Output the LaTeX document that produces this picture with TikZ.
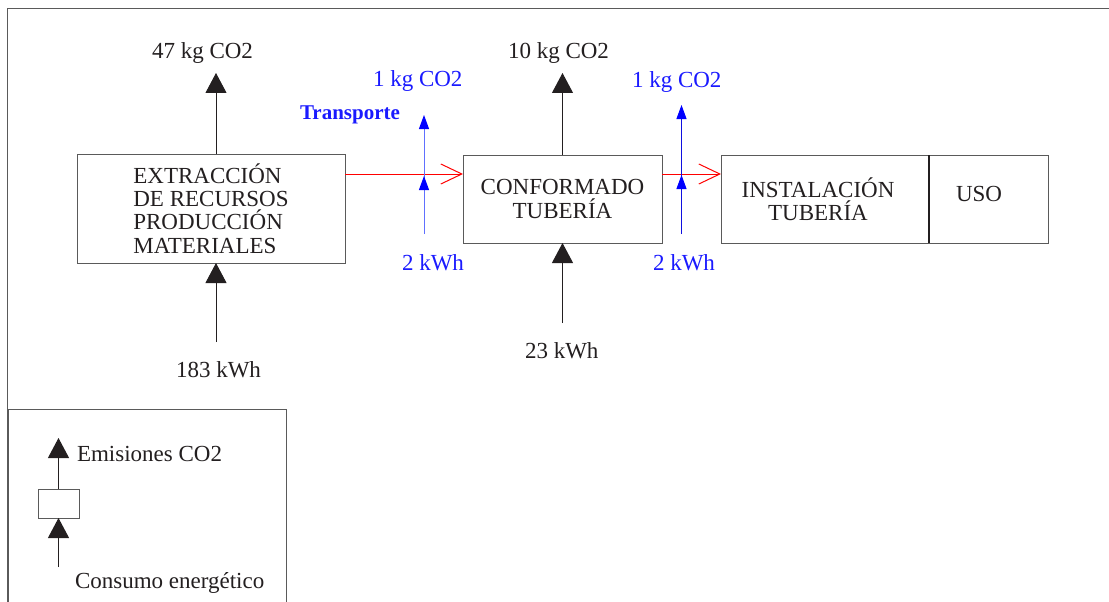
\documentclass[tikz,border=0pt]{standalone}
\usepackage{fontspec}
\setmainfont{Liberation Serif}
\usetikzlibrary{arrows.meta}
\definecolor{ink}{HTML}{231F20}
\definecolor{framec}{HTML}{5A5A5A}
\definecolor{bluetxt}{HTML}{1A1AFF}
\definecolor{lightblue}{HTML}{6070FF}
\definecolor{darkblue}{HTML}{1010E0}
\begin{document}
\begin{tikzpicture}[x=1pt,y=-1pt,
  every node/.style={font=\fontsize{23}{23.4}\selectfont, text=ink, inner sep=0pt, outer sep=0pt},
  boxnode/.style={draw=framec, line width=1pt, rectangle},
  lbl/.style={anchor=base west},
  bluelbl/.style={anchor=base west, text=bluetxt},
  upflow/.style={draw=ink, line width=1pt, -{Triangle[length=20pt,width=21pt]}},
  blueflowL/.style={draw=lightblue, line width=1pt, -{Triangle[length=14pt,width=10pt,color=blue]}},
  blueflowR/.style={draw=darkblue, line width=1pt, -{Triangle[length=14pt,width=10pt,color=blue]}},
  redflow/.style={draw=red, line width=1pt, -{Straight Barb[length=21pt,width=20pt]}}
]
\useasboundingbox (0,0) rectangle (1109,602);
% frame
\draw[framec, line width=1pt] (1109,9) -- (7,9);
\draw[framec, line width=1.6pt] (7.5,9) -- (7.5,602);

% main boxes
\node[boxnode, minimum width=268pt, minimum height=109pt, align=left] (b1) at (211,208.5)
  {EXTRACCIÓN\\DE RECURSOS\\PRODUCCIÓN\\MATERIALES};
\node[boxnode, minimum width=199pt, minimum height=88pt, align=center] (b2) at (562.5,199)
  {CONFORMADO\\TUBERÍA};
\node[boxnode, minimum width=208pt, minimum height=88pt] (b3) at (825,199) {};
\node[boxnode, minimum width=119pt, minimum height=88pt] (b4) at (988.5,199) {};
\draw[ink, line width=1.4pt] (b3.north east) -- (b3.south east);
\node[align=center] (t3) at (818,199) {INSTALACIÓN\\TUBERÍA};
\node[anchor=base] (uso) at (979,201) {USO};

% labels
\node[lbl] (e1) at (152,59) {47 kg CO2};
\node[lbl] (e2) at (508,59) {10 kg CO2};
\node[lbl] (c1) at (176,377) {183 kWh};
\node[lbl] (c2) at (525,358) {23 kWh};
\node[bluelbl] (te1) at (373,87) {1 kg CO2};
\node[bluelbl] (te2) at (632,88) {1 kg CO2};
\node[bluelbl] (tc1) at (402,270) {2 kWh};
\node[bluelbl] (tc2) at (653,270) {2 kWh};
\node[anchor=base west, text=bluetxt, font=\fontsize{21}{22}\selectfont\bfseries] (tr) at (300,120) {Transporte};

% coordinates for free ends
\coordinate (up1) at (216,73);
\coordinate (dn1) at (216,342);
\coordinate (up2) at (562.5,73);
\coordinate (dn2) at (562.5,323);
\coordinate (ry) at (0,174);

% black flows
\draw[upflow] (b1.north -| up1) -- (up1);
\draw[upflow] (dn1) -- (b1.south -| dn1);
\draw[upflow] (b2.north -| up2) -- (up2);
\draw[upflow] (dn2) -- (b2.south -| dn2);

% red transport flows
\draw[redflow] (b1.east |- ry) -- (b2.west |- ry);
\draw[redflow] (b2.east |- ry) -- (b3.west |- ry);

% blue transport arrows
\coordinate (tb1) at (424,234);
\coordinate (tt1) at (424,115);
\coordinate (tm1a) at (424,190);
\coordinate (tm1b) at (424,176);
\draw[blueflowL] (tb1) -- (tt1);
\draw[blueflowL] (tm1a) -- (tm1b);
\coordinate (tb2) at (681.5,234);
\coordinate (tt2) at (681.5,105);
\coordinate (tm2a) at (681.5,189);
\coordinate (tm2b) at (681.5,175);
\draw[blueflowR] (tb2) -- (tt2);
\draw[blueflowR] (tm2a) -- (tm2b);

% legend
\draw[framec, line width=1pt] (8,602) -- (8,409.5) -- (286,409.5) -- (286,602);
\node[boxnode, minimum width=41pt, minimum height=29pt] (lb) at (58.5,503.5) {};
\coordinate (lup) at (58.5,438);
\coordinate (ldn) at (58.5,567);
\draw[upflow] (lb.north) -- (lup);
\draw[upflow] (ldn) -- (lb.south);
\node[lbl] (lt1) at (77,461.5) {Emisiones CO2};
\node[lbl] (lt2) at (75,588) {Consumo energético};
\end{tikzpicture}
\end{document}
